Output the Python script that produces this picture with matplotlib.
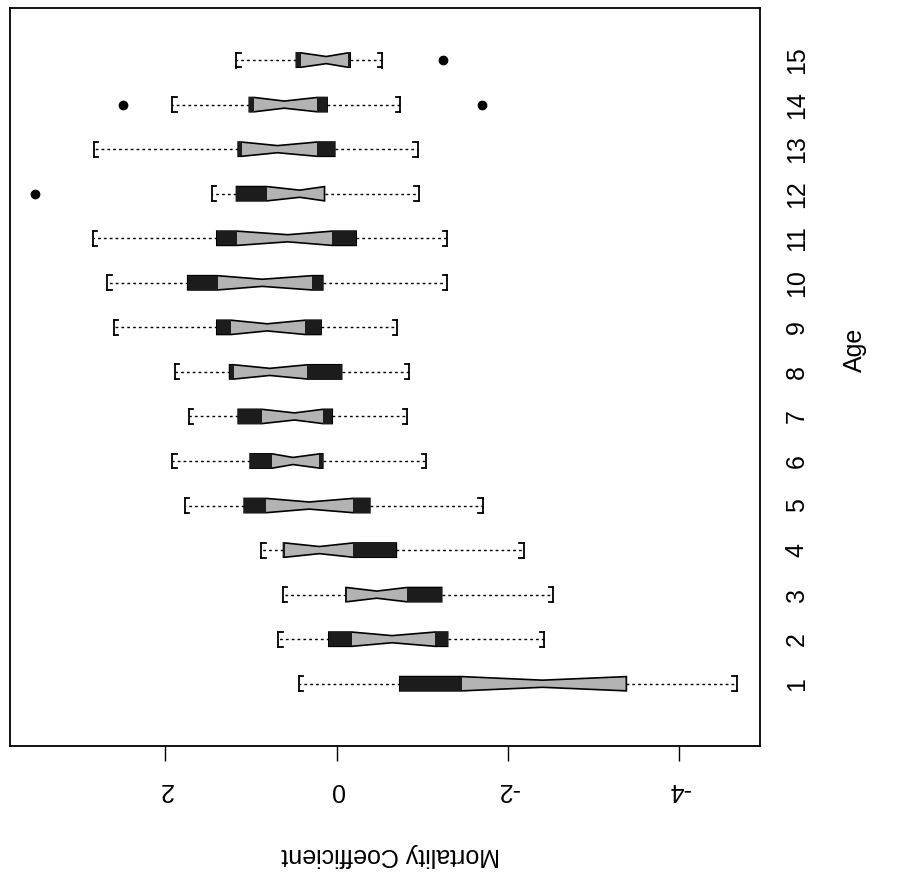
import matplotlib
matplotlib.use("Agg")
import matplotlib.pyplot as plt
import numpy as np

plt.rcParams['font.family'] = ['Liberation Sans', 'DejaVu Sans']

# data (mortality coefficient by age)
ages = list(range(1, 16))
whishi = [0.44, 0.68, 0.63, 0.88, 1.77, 1.92, 1.73, 1.89, 2.60, 2.68, 2.85, 1.46, 2.84, 1.92, 1.17]
q3 = [-0.74, 0.09, -0.11, 0.62, 1.08, 1.01, 1.15, 1.25, 1.40, 1.74, 1.40, 1.17, 1.15, 1.02, 0.47]
cihi = [-1.47, -0.18, -0.12, 0.60, 0.82, 0.75, 0.87, 1.20, 1.23, 1.39, 1.16, 0.81, 1.11, 0.96, 0.41]
med = [-2.41, -0.65, -0.47, 0.20, 0.32, 0.51, 0.49, 0.78, 0.81, 0.87, 0.57, 0.43, 0.69, 0.61, 0.12]
cilo = [-3.39, -1.15, -0.82, -0.19, -0.19, 0.20, 0.16, 0.34, 0.37, 0.29, 0.05, 0.14, 0.23, 0.23, -0.13]
q1 = [-3.39, -1.30, -1.23, -0.70, -0.39, 0.16, 0.05, -0.06, 0.18, 0.16, -0.23, 0.14, 0.02, 0.11, -0.16]
whislo = [-4.68, -2.43, -2.53, -2.19, -1.71, -1.05, -0.83, -0.85, -0.71, -1.29, -1.29, -0.96, -0.95, -0.74, -0.53]
fliers = [[], [], [], [], [], [], [], [], [], [], [], [3.53], [], [2.50, -1.70], [-1.24]]

stats = []
for i in range(len(ages)):
    stats.append(dict(med=med[i], q1=q1[i], q3=q3[i], whislo=whislo[i], whishi=whishi[i],
                      cilo=cilo[i], cihi=cihi[i], fliers=fliers[i], label=str(ages[i])))

fig = plt.figure(figsize=(8.97, 8.84), dpi=100)
ax = fig.add_axes([0.011, 0.156, 0.836, 0.835])

bw = 0.32
ax.bxp(stats, positions=ages, widths=bw, orientation='horizontal', shownotches=True,
       patch_artist=True, showfliers=True,
       boxprops=dict(facecolor='#b3b3b3', edgecolor='black', linewidth=1.2),
       whiskerprops=dict(color='black', linewidth=1.0, linestyle=(0, (2, 2.2))),
       capprops=dict(color='black', linewidth=1.3),
       capwidths=bw * 1.05,
       medianprops=dict(linewidth=0),
       flierprops=dict(marker='o', markerfacecolor='black', markeredgecolor='black',
                       markersize=6))

# dark ends of each box (outside the notch)
ax.barh(ages, np.array(cihi) - np.array(q3), left=q3, height=bw,
        color='#1c1c1c', edgecolor='none', zorder=2.5)
ax.barh(ages, np.array(q1) - np.array(cilo), left=cilo, height=bw,
        color='#1c1c1c', edgecolor='none', zorder=2.5)

# small serifs on the caps, pointing inward: [ ... ]
s = 0.05
for i, a in enumerate(ages):
    for yy in (a - bw * 0.52, a + bw * 0.52):
        ax.plot([whishi[i], whishi[i] - s], [yy, yy], color='black', lw=1.3)
        ax.plot([whislo[i], whislo[i] + s], [yy, yy], color='black', lw=1.3)

ax.set_xlim(3.82, -4.95)
ax.set_ylim(-0.40, 16.17)

ax.set_xticks([2, 0, -2, -4])
ax.set_xticklabels(['2', '0', '-2', '-4'], rotation=180, fontsize=18)
ax.tick_params(axis='x', direction='out', length=11, width=1.0, pad=12)

ax.yaxis.tick_right()
ax.set_yticks(ages)
ax.set_yticklabels([str(a) for a in ages], rotation=90, va='center', fontsize=18)
ax.tick_params(axis='y', length=0, pad=18)

for sp in ax.spines.values():
    sp.set_linewidth(1.3)

fig.text(0.435, 0.033, 'Mortality Coefficient', rotation=180, ha='center', va='center',
         fontsize=18)
fig.text(0.953, 0.604, 'Age', rotation=90, ha='center', va='center', fontsize=18)

fig.savefig('out.png', dpi=100)
